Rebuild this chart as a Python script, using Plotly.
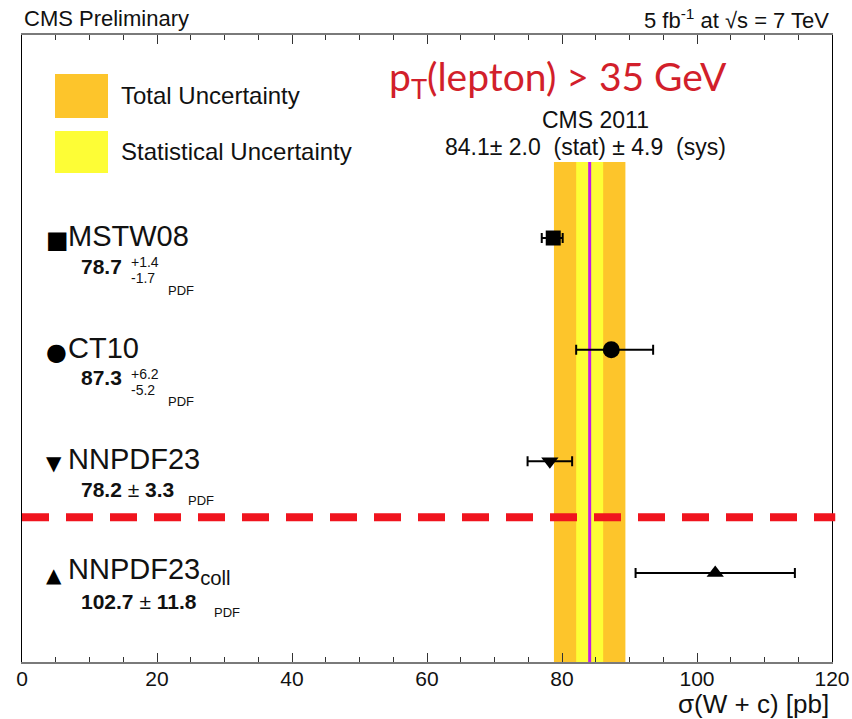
import plotly.graph_objects as go

# Theory predictions for sigma(W + c) [pb]
pdf_sets = ["MSTW08", "CT10", "NNPDF23", "NNPDF23"]
pdf_subscripts = ["", "", "", "coll"]
pred_values = [78.7, 87.3, 78.2, 102.7]
pred_err_up = [1.4, 6.2, 3.3, 11.8]
pred_err_down = [1.7, 5.2, 3.3, 11.8]
row_positions = [4, 3, 2, 1]
marker_symbols = ["square", "circle", "triangle-down", "triangle-up"]
marker_sizes = [15, 17, 15, 15]
label_glyphs = ["■", "●", "▼", "▲"]
symmetric_errors = [False, False, True, True]

# CMS 2011 measurement
cms_value = 84.1
cms_stat = 2.0
cms_sys = 4.9
cms_total = (cms_stat ** 2 + cms_sys ** 2) ** 0.5

x_ticks = [0, 20, 40, 60, 80, 100, 120]

W, H = 852, 719
L, R, T, B = 22, 20, 35, 57
PW, PH = W - L - R, H - T - B
Y_MIN, Y_MAX = 0.203, 5.818
BAND_TOP = 4.68

ORANGE = "#fdc52b"
YELLOW = "#fdfd36"
MAGENTA = "#c01ee8"
RED = "#f0141e"
SANS = "Liberation Sans, Arial, Helvetica, sans-serif"
NB = "\u00a0"


def px(x):
    return (x - L) / PW


def py(y):
    return (H - B - y) / PH


fig = go.Figure()

for name, v, up, dn, yr, sym, sz in zip(pdf_sets, pred_values, pred_err_up,
                                        pred_err_down, row_positions,
                                        marker_symbols, marker_sizes):
    fig.add_trace(go.Scatter(
        x=[v], y=[yr], mode="markers",
        marker=dict(symbol=sym, size=sz, color="black"),
        error_x=dict(type="data", symmetric=False, array=[up], arrayminus=[dn],
                     color="black", thickness=2, width=5),
        showlegend=False, name=name,
    ))

shapes = []
# total and statistical uncertainty bands, central value line
shapes.append(dict(type="rect", xref="x", yref="y", layer="below",
                   x0=cms_value - cms_total, x1=cms_value + cms_total,
                   y0=Y_MIN, y1=BAND_TOP, fillcolor=ORANGE, line_width=0))
shapes.append(dict(type="rect", xref="x", yref="y", layer="below",
                   x0=cms_value - cms_stat, x1=cms_value + cms_stat,
                   y0=Y_MIN, y1=BAND_TOP, fillcolor=YELLOW, line_width=0))
shapes.append(dict(type="line", xref="x", yref="y", layer="below",
                   x0=cms_value, x1=cms_value, y0=Y_MIN, y1=BAND_TOP,
                   line=dict(color=MAGENTA, width=3)))
# separator between the standard and collider-only fits
shapes.append(dict(type="line", xref="paper", yref="y", layer="above",
                   x0=0, x1=1.004, y0=1.5, y1=1.5,
                   line=dict(color=RED, width=8, dash="27px,17px")))
# legend swatches
shapes.append(dict(type="rect", xref="paper", yref="paper",
                   x0=px(55), x1=px(108), y0=py(118), y1=py(74),
                   fillcolor=ORANGE, line_width=0))
shapes.append(dict(type="rect", xref="paper", yref="paper",
                   x0=px(55), x1=px(108), y0=py(173), y1=py(131),
                   fillcolor=YELLOW, line_width=0))

ann = []


def text(x, y, s, size, xanchor="left", color="#111", family=SANS,
         xref="paper", yref="paper", yshift=0):
    ann.append(dict(x=x, y=y, xref=xref, yref=yref, text=s, showarrow=False,
                    xanchor=xanchor, yanchor="middle", yshift=yshift,
                    font=dict(size=size, color=color, family=family)))


text(px(22), py(19), "CMS Preliminary", 22)
text(px(831), py(19), "5 fb<sup>-1</sup> at √s = 7 TeV", 22, xanchor="right")
text(px(387), py(79), "p<sub>T</sub>(lepton) > 35 GeV", 39, color="#d21f2b",
     family="Lato, Open Sans, sans-serif")
text(px(595), py(120), "CMS 2011", 23, xanchor="center")
text(px(585), py(147),
     f"{cms_value}±{NB}{cms_stat:.1f}{NB}{NB}(stat){NB}±{NB}"
     f"{cms_sys:.1f}{NB}{NB}(sys)", 23, xanchor="center")
text(px(119), py(95), "Total Uncertainty", 24)
text(px(119), py(151), "Statistical Uncertainty", 24)
text(px(831), py(704), "σ(W + c) [pb]", 26, xanchor="right")

# row labels on the left
for name, sub, v, up, dn, yr, glyph, sym_err in zip(
        pdf_sets, pdf_subscripts, pred_values, pred_err_up, pred_err_down,
        row_positions, label_glyphs, symmetric_errors):
    gsize = 24 if glyph in ("■", "●") else 20
    text(px(44), yr, glyph, gsize, xref="paper", yref="y",
         family="DejaVu Sans", color="black", yshift=-2)
    label = name + (f"<sub>{sub}</sub>" if sub else "")
    text(px(66), yr, label, 29, yref="y", yshift=2)
    if sym_err:
        text(px(79), yr, f"<b>{v}</b> ± <b>{up}</b>", 21, yref="y",
             yshift=-28)
        off = 186 if v < 100 else 212
        text(px(off), yr, "PDF", 13, yref="y", yshift=-39)
    else:
        text(px(79), yr, f"<b>{v}</b>", 21, yref="y", yshift=-28)
        text(px(129), yr, f"+{up}", 14, yref="y", yshift=-24)
        text(px(129), yr, f"-{dn}", 14, yref="y", yshift=-40)
        text(px(166), yr, "PDF", 13, yref="y", yshift=-52)

fig.update_layout(
    width=W, height=H, autosize=False,
    margin=dict(l=L, r=R, t=T, b=B),
    paper_bgcolor="white", plot_bgcolor="white",
    shapes=shapes, annotations=ann,
    xaxis=dict(range=[0, 120], tickvals=x_ticks,
               ticktext=[str(t) for t in x_ticks],
               ticks="inside", ticklen=9, tickwidth=1, tickcolor="#333",
               minor=dict(dtick=5, ticks="inside", ticklen=5, tickcolor="#333"),
               showline=True, linecolor="#7a7a7a", linewidth=2,
               mirror="allticks", showgrid=False, zeroline=False,
               automargin=False, ticklabelstandoff=-3,
               tickfont=dict(size=21, family=SANS, color="#111")),
    yaxis=dict(range=[Y_MIN, Y_MAX], showticklabels=False, ticks="",
               showline=True, linecolor="black", linewidth=1, mirror=True,
               showgrid=False, zeroline=False, automargin=False),
)

fig.write_html("out.html", config={"responsive": False})
